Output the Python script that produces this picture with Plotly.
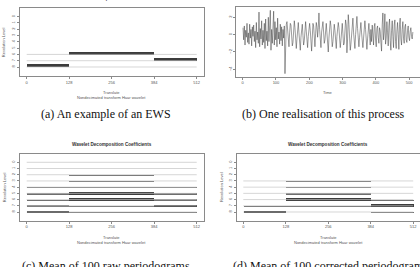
import plotly.graph_objects as go

W, H = 420, 267

# ---------------- data ----------------
n_levels = 9
level_labels = ["8", "7", "6", "5", "4", "3", "2", "1", "0"]   # bottom -> top
translate_ticks = [0, 128, 256, 384, 512]
time_ticks = [0, 100, 200, 300, 400, 500]
value_ticks = [-4, -2, 0, 2]

# (a) example EWS: level, start, end, power
ews_level = [6, 7, 8]
ews_start = [128, 384, 0]
ews_end = [384, 512, 128]
ews_power = [1.0, 1.0, 1.0]

# (b) one realisation (every second time point)
ts_seg1 = [0.8, -0.6, 1.0, -1.2, 0.5, -0.3, 1.3, -0.9, 0.2, -1.1, 1.2, -0.4, 0.6, -1.3, 0.9, -0.2,
           1.1, -0.8, 0.4, -1.5, 1.4, -0.6, 0.3, -1.0, 2.6, -1.4, 0.7, -0.5, 1.6, -1.2, 0.5, -0.9,
           1.3, -1.6, 1.8, -0.7, 0.4, -1.3, 2.0, -0.8, 1.0, 2.8, -1.8, 0.6, -1.0, 1.2, 2.7, -1.2,
           1.5, -0.6, 0.8, -1.4, 1.9, -0.5, 0.3, -1.1, 1.2, -0.7, 0.9, -1.3, 0.6, -0.4, 1.0, -4.5]
ts_seg2 = [-0.5, 1.2, 1.5, 0.3, -1.0, -1.4, 0.2, 1.3, 1.1, -0.2, -1.3, -0.9, 0.6, 1.6, 0.8, -0.8,
           -1.6, -0.5, 0.9, 1.4, 0.2, -1.1, -1.8, -0.3, 1.0, 1.2, -0.1, -1.2, -0.7, 0.8, 1.5, 0.4,
           -0.9, -1.5, -0.2, 1.1, 1.3, 0.5, -1.2, -1.9, -0.4, 1.3, 1.0, -0.6, -1.4, 0.1, 1.4, 0.9,
           -0.3, 0.8, 2.5, 0.6, -1.0, -1.5, 0.3, 1.2, 1.5, 0.3, -1.0, -0.6, 0.7, 1.3, 0.2, -1.1,
           -2.0, -0.4, 1.0, 1.6, 1.0, -0.5, -1.4, -0.8, 0.6, 1.2, 0.5, -0.9, -1.6, -0.2, 1.1, 1.4,
           0.8, -1.0, -1.5, -0.7, 0.9, 1.3, 0.1, -1.2, -1.0, 0.5, 1.7, 1.1, -2.1, -0.5, 2.3, 1.2,
           -0.6, -1.8, -1.1, 0.3, 1.5, 1.9, 0.2, -1.3, -1.6, 0.0, 1.2, 2.1, 0.7, -0.9, -1.4, -0.3,
           1.0, 1.4, 0.2, -1.1, -1.5, -0.4, 0.9, 1.6, 0.6, -0.8, -1.7, -0.5, 1.1, 1.3, 0.0, -1.2]
ts_seg3 = [0.6, -0.8, 1.1, 0.2, -1.2, 0.9, 1.3, -0.5, -1.4, 0.7, 1.0, -0.3, -1.0, 0.8, 0.4, -0.9,
           -1.9, 1.2, 2.5, -0.6, 0.3, 2.4, -1.1, -0.4, 1.5, 0.2, -1.3, 1.0, 1.8, -0.7, -1.8, 0.5,
           1.6, -0.2, -1.5, 1.1, 1.7, -0.8, -1.6, 0.4, 1.4, 0.0, -1.7, 1.2, 1.9, -0.5, -1.2, 0.6,
           1.5, -0.4, -1.0, 0.9, 1.2, -0.6, -0.9, 0.5, 1.0, -0.3, -0.7, 0.4, 0.8, -0.2, -0.5, 0.3]
series = ts_seg1 + ts_seg2 + ts_seg3
time = list(range(1, 512, 2))

# (c),(d) mean periodograms: per level (0..8), per segment [0,128),[128,384),[384,512)
seg_start = [0, 128, 384]
seg_end = [128, 384, 512]
raw_power = [
    [0.00, 0.00, 0.00],
    [0.00, 0.01, 0.00],
    [0.00, 0.06, 0.00],
    [0.01, 0.12, 0.01],
    [0.03, 0.35, 0.04],
    [0.05, 0.85, 0.08],
    [0.08, 0.85, 0.15],
    [0.25, 0.12, 0.85],
    [0.90, 0.08, 0.25],
]
corr_power = [
    None,
    None,
    None,
    [0.00, 0.04, 0.00],
    [0.00, 0.06, 0.00],
    [0.01, 0.10, 0.01],
    [0.02, 0.90, 0.08],
    [0.04, 0.15, 0.90],
    [0.90, 0.02, 0.04],
]

# ---------------- styling ----------------
AX_COL = "#8a8a8a"
TXT = "#555555"
BAR = "#3c3c3c"
BASE = "#c4c4c4"
TICKF = dict(family="Liberation Sans", size=4, color=TXT)

fig = go.Figure()


def ypos(level):
    return n_levels - level


def add_bars(power_rows, xa, ya, scale, starts, ends):
    ys, xs, bs, ws, cs = [], [], [], [], []
    for lev, row in enumerate(power_rows):
        if row is None:
            continue
        for s, e, p in zip(starts, ends, row):
            if p < 0.03:
                continue
            h = p * scale
            ys.append(ypos(lev) + h / 2 - 0.04)
            xs.append(e - s)
            bs.append(s)
            ws.append(h)
            cs.append(BAR if p > 0.5 else "#6e6e6e")
    fig.add_trace(go.Bar(orientation="h", y=ys, x=xs, base=bs, width=ws,
                         marker=dict(color=cs, line=dict(width=0)),
                         xaxis=xa, yaxis=ya, showlegend=False, hoverinfo="skip"))


def add_baselines(levels, xa, ya, color=BASE):
    xs, ys = [], []
    for lev in levels:
        xs += [0, 512, None]
        ys += [ypos(lev), ypos(lev), None]
    fig.add_trace(go.Scatter(x=xs, y=ys, mode="lines", line=dict(color=color, width=0.7),
                             xaxis=xa, yaxis=ya, showlegend=False, hoverinfo="skip"))


# (a)
add_baselines(ews_level, "x", "y")
for lev, s, e, p in zip(ews_level, ews_start, ews_end, ews_power):
    fig.add_trace(go.Bar(orientation="h", y=[ypos(lev) + p * 0.26 - 0.06], x=[e - s], base=[s],
                         width=[p * 0.52], marker=dict(color=BAR, line=dict(width=0)),
                         xaxis="x", yaxis="y", showlegend=False, hoverinfo="skip"))

# (b)
fig.add_trace(go.Scatter(x=time, y=series, mode="lines", line=dict(color="#3a3a3a", width=0.5),
                         xaxis="x2", yaxis="y2", showlegend=False, hoverinfo="skip"))

# (c)
add_baselines(range(n_levels), "x3", "y3")
add_bars(raw_power, "x3", "y3", 0.35, seg_start, seg_end)

# (d)
add_baselines([i for i, r in enumerate(corr_power) if r is not None], "x4", "y4")
add_bars(corr_power, "x4", "y4", 0.35, seg_start, seg_end)


def px_x(v):
    return v / W


def px_y(v):
    return 1 - v / H


common_x = dict(showgrid=False, zeroline=False, showline=True, mirror=True, linecolor=AX_COL,
                linewidth=0.8, ticks="outside", ticklen=2, tickwidth=0.6, tickcolor=AX_COL,
                tickfont=TICKF)
common_y = dict(common_x, tickangle=-90)

lvl_y = dict(common_y, range=[-0.4, 10.4], tickvals=list(range(1, n_levels + 1)),
             ticktext=level_labels)
tr_x = dict(common_x, range=[-20.48, 532.48], tickvals=translate_ticks,
            ticktext=[str(t) for t in translate_ticks])

fig.update_layout(
    width=W, height=H, autosize=False,
    margin=dict(l=0, r=0, t=0, b=0),
    paper_bgcolor="white", plot_bgcolor="white",
    barmode="overlay", bargap=0,
    xaxis=dict(tr_x, domain=[px_x(19.9), px_x(203.5)], anchor="y"),
    yaxis=dict(lvl_y, domain=[px_y(75.8), px_y(7.9)], anchor="x"),
    xaxis2=dict(common_x, range=[-19.44, 532.44], tickvals=time_ticks,
                domain=[px_x(236.2), 1.0], anchor="y2"),
    yaxis2=dict(common_y, range=[-4.85, 3.15], tickvals=value_ticks,
                domain=[px_y(76.7), px_y(7.3)], anchor="x2"),
    xaxis3=dict(tr_x, domain=[px_x(19.9), px_x(203.5)], anchor="y3"),
    yaxis3=dict(lvl_y, domain=[px_y(220.7), px_y(153.6)], anchor="x3"),
    xaxis4=dict(tr_x, domain=[px_x(236.5), 1.0], anchor="y4"),
    yaxis4=dict(lvl_y, domain=[px_y(220.7), px_y(153.6)], anchor="x4"),
)

SMALL = dict(family="Liberation Sans", size=4, color=TXT)
TITLE = dict(family="Liberation Sans", size=4.6, color="#333333")
CAP = dict(family="Liberation Serif", size=12, color="#111111")


def ann(text, x, y, font, angle=0):
    fig.add_annotation(text=text, x=px_x(x), y=px_y(y), xref="paper", yref="paper",
                       showarrow=False, xanchor="center", yanchor="middle",
                       font=font, textangle=angle)


# panel (a)
ann("<b>Wavelet Decomposition Coefficients</b>", 111.7, -1.5, TITLE)
ann("Translate", 111.7, 92.7, SMALL)
ann("Nondecimated transform Haar wavelet", 111.7, 97.7, SMALL)
ann("Resolution Level", 4.2, 42, SMALL, -90)
# panel (b)
ann("Time", 328, 92.7, SMALL)
# panel (c)
ann("<b>Wavelet Decomposition Coefficients</b>", 111.7, 144.7, TITLE)
ann("Translate", 111.7, 237.7, SMALL)
ann("Nondecimated transform Haar wavelet", 111.7, 242.3, SMALL)
ann("Resolution Level", 4.2, 187, SMALL, -90)
# panel (d)
ann("<b>Wavelet Decomposition Coefficients</b>", 328, 144.7, TITLE)
ann("Translate", 328, 237.7, SMALL)
ann("Nondecimated transform Haar wavelet", 328, 242.3, SMALL)
ann("Resolution Level", 221, 187, SMALL, -90)
# captions
ann("(a) An example of an EWS", 106, 114, CAP)
ann("(b) One realisation of this process", 323, 114, CAP)
ann("(c) Mean of 100 raw periodograms", 106, 265.5, CAP)
ann("(d) Mean of 100 corrected periodograms", 330, 265.5, CAP)

fig.write_html("out.html")
